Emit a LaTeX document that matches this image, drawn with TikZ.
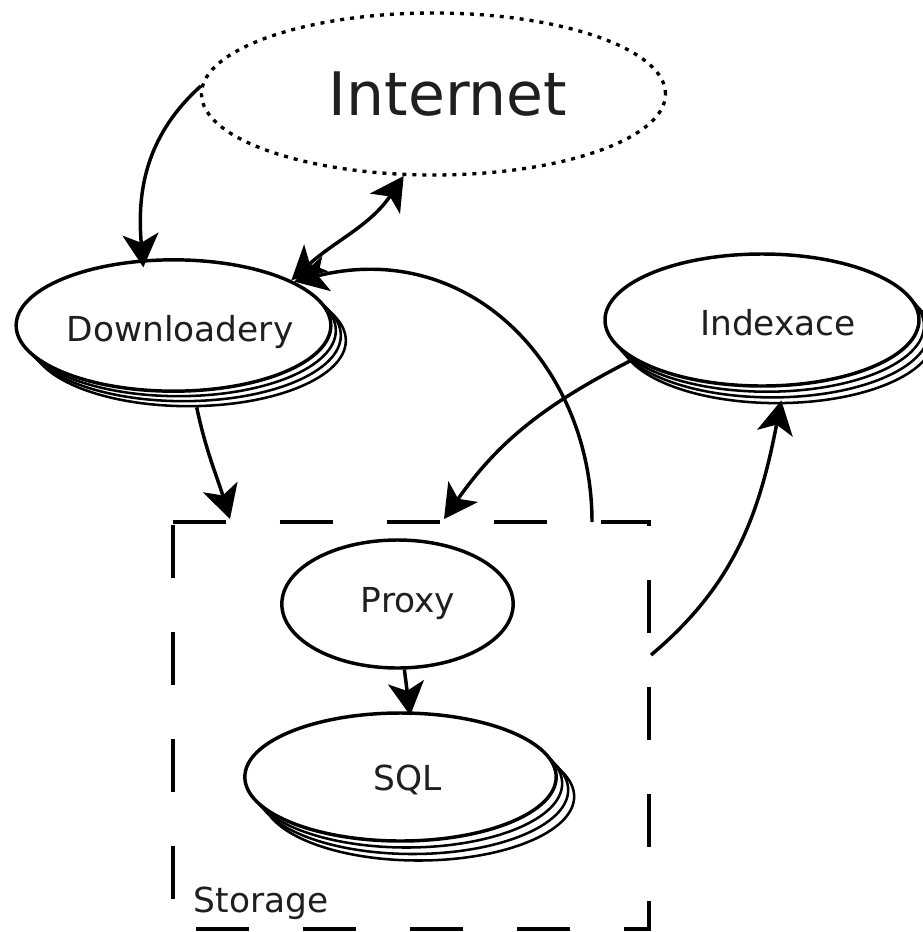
\documentclass[tikz,border=0pt]{standalone}
\usepackage{fontspec}
\setmainfont{DejaVu Sans}
\usetikzlibrary{arrows.meta,shapes.geometric}

\tikzset{
  >={Stealth[length=25pt,width=27pt,inset=6.5pt]},
  blob/.style={ellipse, draw, line width=2.6pt, fill=white, inner sep=0pt},
  shadowblob/.style={ellipse, draw, line width=1.9pt, fill=white, inner sep=0pt},
  cloudblob/.style={ellipse, draw, line width=2.5pt, dash pattern=on 3pt off 4.5pt, inner sep=0pt},
  conn/.style={line width=2.6pt, ->},
  dconn/.style={line width=2.6pt, <->},
  boxline/.style={line width=2.9pt, dash pattern=on 39.75pt off 40.5pt},
  lbl/.style={font=\fontsize{25.8}{30}\selectfont, text=black!88, anchor=base, inner sep=0pt},
  biglbl/.style={font=\fontsize{45}{54}\selectfont, text=black!88, anchor=base, inner sep=0pt},
}

\begin{document}
\begin{tikzpicture}[x=0.75pt, y=0.75pt]
\useasboundingbox (0,0) rectangle (922,-932);

% Internet cloud
\node[cloudblob, minimum width=348pt, minimum height=121.5pt] (inet) at (433.5,-94) {};
\node[biglbl] (inett) at (448,-115) {Internet};

% Downloadery (stacked)
\foreach \k in {3,2,1}
  \node[shadowblob, minimum width=236pt, minimum height=98.5pt] (dl\k) at (173.5+5*\k,-325.5-5*\k) {};
\node[blob, minimum width=236pt, minimum height=98.5pt] (dl) at (173.5,-325.5) {};
\node[lbl] (dlt) at (180,-341) {Downloadery};

% Indexace (stacked)
\foreach \k in {3,2,1}
  \node[shadowblob, minimum width=235.5pt, minimum height=99pt] (ix\k) at (762+5*\k,-320-5.7*\k) {};
\node[blob, minimum width=235.5pt, minimum height=99pt] (ix) at (762,-320) {};
\node[lbl] (ixt) at (778,-335) {Indexace};

% Storage container
\node[minimum width=357pt, minimum height=305.25pt, inner sep=0pt] (st) at (411,-725.5) {};
\draw[boxline] (st.north west) -- (st.north east) -- (st.south east) -- (st.south west) -- cycle;
\node[lbl] (stt) at (261,-912) {Storage};
\coordinate (sA) at (592,-522);
\coordinate (sB) at (230,-519);
\coordinate (sC) at (444,-519);
\coordinate (sD) at (651,-655);

% Proxy
\node[blob, minimum width=173.5pt, minimum height=96pt] (pr) at (397.5,-604) {};
\node[lbl] (prt) at (408,-612) {Proxy};

% SQL (stacked)
\foreach \k in {3,2,1}
  \node[shadowblob, minimum width=233.5pt, minimum height=96pt] (sq\k) at (400.5+6*\k,-777-6.5*\k) {};
\node[blob, minimum width=233.5pt, minimum height=96pt] (sq) at (400.5,-777) {};
\node[lbl] (sqt) at (408,-790) {SQL};

% Connectors
\draw[conn, shorten >=-6pt] (inet.178) to[out=222, in=95] (dl.115);
\draw[dconn] (dl.21) to[out=42, in=236] (inet.250);
\draw[conn] (sA) .. controls (592,-367) and (470,-238) .. (dl.20);
\draw[conn] (dl3.277) to[out=282, in=107] (sB);
\draw[conn] (ix.197) to[out=207, in=55] (sC);
\draw[conn, shorten >=-3pt] (sD) to[out=40, in=259] (ix3.273);
\draw[conn, shorten >=-3pt] (pr.276) -- (sq.82);
\end{tikzpicture}
\end{document}
